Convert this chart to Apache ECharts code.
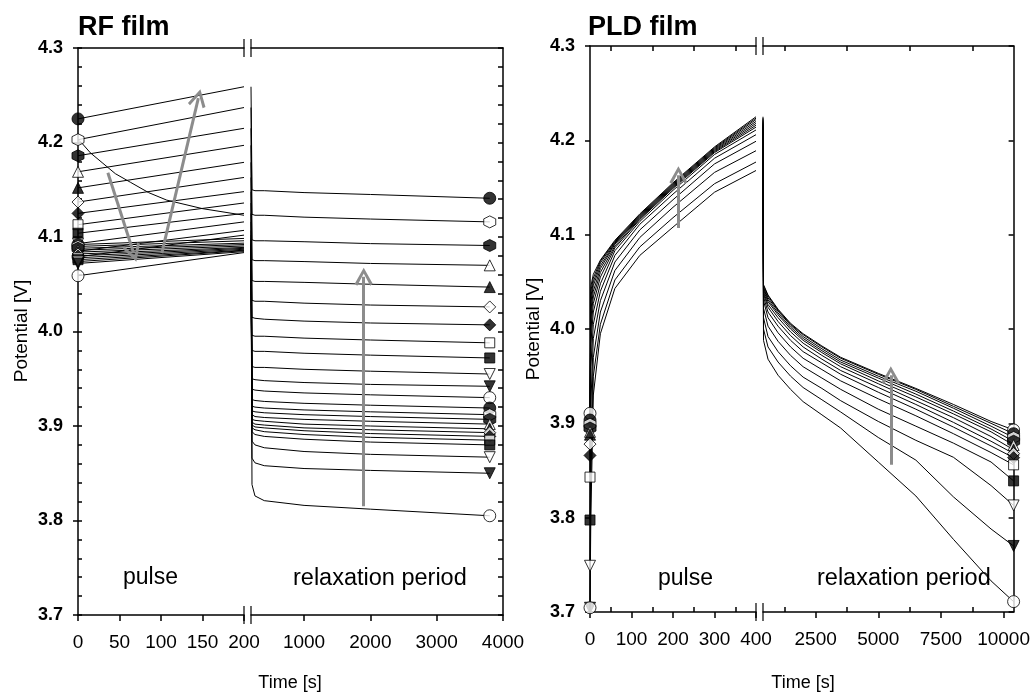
<!DOCTYPE html>
<html>
<head>
<meta charset="utf-8">
<script src="https://cdn.jsdelivr.net/npm/echarts@6/dist/echarts.min.js"></script>
<style>
  html, body { margin: 0; padding: 0; background: #fff; }
  #chart { width: 1033px; height: 692px; }
</style>
</head>
<body>
<div id="chart"></div>
<script>
// ---- RF film data (curve 1 = lowest, 24 = highest) ----
var rfPulseStart = [4.059, 4.072, 4.074, 4.076, 4.078, 4.080, 4.082, 4.084, 4.086, 4.088, 4.090, 4.092,
                    4.079, 4.085, 4.093, 4.104, 4.113, 4.125, 4.137, 4.152, 4.169, 4.186, 4.203, 4.225];
var rfPulseEnd = [4.0835, 4.0845, 4.0855, 4.086, 4.087, 4.088, 4.089, 4.0905, 4.092, 4.0935, 4.096, 4.0985,
                  4.102, 4.107, 4.116, 4.125, 4.136, 4.148, 4.163, 4.179, 4.197, 4.215, 4.237, 4.259];
var rfRelaxTime = [215, 260, 400, 1000, 2000, 3800];
var rfRelax = [
  [3.838, 3.826, 3.821, 3.816, 3.812, 3.805],
  [3.866, 3.861, 3.858, 3.855, 3.853, 3.850],
  [3.884, 3.880, 3.877, 3.873, 3.870, 3.867],
  [3.894, 3.891, 3.889, 3.886, 3.883, 3.880],
  [3.898, 3.896, 3.894, 3.891, 3.888, 3.885],
  [3.901, 3.899, 3.898, 3.895, 3.892, 3.889],
  [3.904, 3.902, 3.901, 3.898, 3.896, 3.893],
  [3.907, 3.906, 3.905, 3.902, 3.900, 3.897],
  [3.912, 3.910, 3.909, 3.907, 3.905, 3.902],
  [3.916, 3.915, 3.914, 3.912, 3.910, 3.907],
  [3.921, 3.920, 3.919, 3.917, 3.915, 3.912],
  [3.928, 3.927, 3.926, 3.924, 3.922, 3.919],
  [3.939, 3.938, 3.937, 3.935, 3.933, 3.930],
  [3.950, 3.949, 3.948, 3.946, 3.944, 3.942],
  [3.963, 3.962, 3.962, 3.960, 3.958, 3.955],
  [3.980, 3.979, 3.979, 3.977, 3.975, 3.972],
  [3.996, 3.995, 3.995, 3.993, 3.991, 3.988],
  [4.015, 4.014, 4.013, 4.011, 4.009, 4.007],
  [4.033, 4.032, 4.032, 4.030, 4.028, 4.026],
  [4.054, 4.053, 4.053, 4.052, 4.050, 4.047],
  [4.076, 4.075, 4.075, 4.074, 4.072, 4.070],
  [4.097, 4.096, 4.096, 4.095, 4.093, 4.091],
  [4.124, 4.123, 4.123, 4.121, 4.119, 4.116],
  [4.150, 4.149, 4.149, 4.147, 4.145, 4.141]
];
// the one pulse curve that decays
var rfDecayTime = [0, 5, 15, 30, 45, 63, 85, 107, 150, 200];
var rfDecayV = [4.203, 4.199, 4.189, 4.178, 4.167, 4.158, 4.147, 4.139, 4.130, 4.123];

// ---- PLD film data (curve 1 = lowest, 13 = highest) ----
var pldPulseTime = [0, 2, 8, 25, 60, 120, 200, 300, 400];
var pldPulse = [
  [3.7045, 3.800, 3.930, 3.995, 4.043, 4.078, 4.108, 4.145, 4.168],
  [3.7045, 3.840, 3.950, 4.005, 4.052, 4.087, 4.118, 4.154, 4.177],
  [3.749, 3.880, 3.970, 4.018, 4.062, 4.097, 4.129, 4.166, 4.189],
  [3.7975, 3.920, 3.990, 4.030, 4.071, 4.105, 4.137, 4.175, 4.199],
  [3.843, 3.960, 4.005, 4.040, 4.078, 4.111, 4.143, 4.181, 4.206],
  [3.866, 3.985, 4.018, 4.048, 4.083, 4.114, 4.147, 4.185, 4.211],
  [3.878, 4.000, 4.027, 4.055, 4.086, 4.116, 4.149, 4.187, 4.214],
  [3.888, 4.012, 4.034, 4.060, 4.088, 4.117, 4.150, 4.188, 4.216],
  [3.891, 4.020, 4.040, 4.064, 4.090, 4.118, 4.151, 4.189, 4.218],
  [3.895, 4.028, 4.046, 4.067, 4.091, 4.119, 4.152, 4.190, 4.220],
  [3.899, 4.034, 4.050, 4.070, 4.092, 4.120, 4.153, 4.191, 4.222],
  [3.9035, 4.040, 4.054, 4.072, 4.093, 4.121, 4.154, 4.192, 4.2235],
  [3.9106, 4.045, 4.058, 4.073, 4.094, 4.122, 4.155, 4.193, 4.225]
];
var pldRelaxTime = [420, 600, 1000, 1500, 2000, 2750, 3500, 5000, 6500, 8000, 9500, 10400];
var pldRelax = [
  [3.988, 3.968, 3.951, 3.936, 3.923, 3.909, 3.895, 3.859, 3.823, 3.777, 3.733, 3.711],
  [4.000, 3.981, 3.965, 3.950, 3.938, 3.925, 3.912, 3.885, 3.861, 3.822, 3.788, 3.770],
  [4.012, 3.992, 3.976, 3.961, 3.949, 3.937, 3.924, 3.902, 3.882, 3.864, 3.834, 3.813],
  [4.022, 4.003, 3.987, 3.972, 3.960, 3.948, 3.936, 3.915, 3.897, 3.879, 3.859, 3.839],
  [4.030, 4.012, 3.996, 3.981, 3.969, 3.957, 3.945, 3.926, 3.908, 3.889, 3.869, 3.856],
  [4.034, 4.018, 4.003, 3.988, 3.976, 3.964, 3.952, 3.933, 3.915, 3.896, 3.876, 3.8636],
  [4.037, 4.023, 4.008, 3.993, 3.981, 3.968, 3.956, 3.938, 3.920, 3.901, 3.881, 3.868],
  [4.039, 4.026, 4.012, 3.997, 3.985, 3.972, 3.960, 3.942, 3.924, 3.906, 3.886, 3.872],
  [4.041, 4.029, 4.015, 4.000, 3.988, 3.975, 3.963, 3.945, 3.928, 3.910, 3.891, 3.877],
  [4.043, 4.031, 4.017, 4.002, 3.990, 3.977, 3.965, 3.948, 3.931, 3.913, 3.894, 3.881],
  [4.044, 4.033, 4.019, 4.004, 3.992, 3.979, 3.967, 3.950, 3.934, 3.916, 3.897, 3.885],
  [4.046, 4.035, 4.020, 4.005, 3.994, 3.981, 3.969, 3.952, 3.936, 3.918, 3.900, 3.889],
  [4.047, 4.036, 4.021, 4.006, 3.995, 3.982, 3.970, 3.953, 3.937, 3.920, 3.902, 3.893]
];

// gray arrows [t0, v0, t1, v1]
var rfPulseArrows = [[36, 4.168, 67, 4.083], [101, 4.083, 145, 4.247]];
var rfRelaxArrows = [[1900, 3.815, 1900, 4.058]];
var pldPulseArrows = [[213, 4.107, 213, 4.163]];
var pldRelaxArrows = [[5500, 3.856, 5500, 3.951]];

var yTicks = [3.7, 3.8, 3.9, 4.0, 4.1, 4.2, 4.3];

var FONT = '"Liberation Sans", Arial, Helvetica, sans-serif';
var HEX = 'path://M5,0 L9.33,2.5 L9.33,7.5 L5,10 L0.67,7.5 L0.67,2.5 Z';
var CHEVRON = 'path://M5,0 L10,9.5 L8.6,10.6 L5,3.4 L1.4,10.6 L0,9.5 Z';

// symbol cycle, index = curve number mod 12
var SYMBOLS = [
  { symbol: 'circle', filled: true, size: 12 },
  { symbol: 'circle', filled: false, size: 12 },
  { symbol: 'triangle', filled: true, size: 11, rotate: 180 },
  { symbol: 'triangle', filled: false, size: 11, rotate: 180 },
  { symbol: 'rect', filled: true, size: 10 },
  { symbol: 'rect', filled: false, size: 10 },
  { symbol: 'diamond', filled: true, size: 12 },
  { symbol: 'diamond', filled: false, size: 12 },
  { symbol: 'triangle', filled: true, size: 11 },
  { symbol: 'triangle', filled: false, size: 11 },
  { symbol: HEX, filled: true, size: 12 },
  { symbol: HEX, filled: false, size: 12 }
];

function markerItem(t, v, n) {
  var s = SYMBOLS[n % 12];
  return {
    value: [t, v],
    symbol: s.symbol,
    symbolSize: s.size,
    symbolRotate: s.rotate || 0,
    itemStyle: { color: s.filled ? '#000' : '#fff', borderColor: '#000', borderWidth: 1 }
  };
}

function curve(xi, yi, data) {
  return {
    type: 'line', xAxisIndex: xi, yAxisIndex: yi, data: data,
    symbol: 'none', lineStyle: { color: '#000', width: 1 },
    silent: true, z: 2
  };
}

function markers(xi, yi, data) {
  return { type: 'scatter', xAxisIndex: xi, yAxisIndex: yi, data: data, clip: false, silent: true, z: 5 };
}

function arrows(xi, yi, list) {
  return {
    type: 'lines', coordinateSystem: 'cartesian2d', xAxisIndex: xi, yAxisIndex: yi,
    data: list.map(function (a) { return { coords: [[a[0], a[1]], [a[2], a[3]]] }; }),
    symbol: ['none', CHEVRON], symbolSize: [16, 18],
    lineStyle: { color: '#8c8c8c', width: 3, opacity: 1, curveness: 0 },
    silent: true, z: 4
  };
}

function pairs(times, values) {
  return times.map(function (t, k) { return [t, values[k]]; });
}

var series = [];
var i;
// RF film
for (i = 0; i < rfPulseStart.length; i++) {
  series.push(curve(0, 0, [[0, rfPulseStart[i]], [200, rfPulseEnd[i]]]));
  series.push(curve(2, 2, [[200, rfPulseEnd[i]]].concat(pairs(rfRelaxTime, rfRelax[i]))));
}
series.push(curve(0, 0, pairs(rfDecayTime, rfDecayV)));
var rfStartMarks = [], rfEndMarks = [];
for (i = rfPulseStart.length - 1; i >= 0; i--) {
  rfStartMarks.push(markerItem(0, rfPulseStart[i], i + 1));
  rfEndMarks.push(markerItem(rfRelaxTime[rfRelaxTime.length - 1], rfRelax[i][rfRelax[i].length - 1], i + 1));
}
series.push(markers(0, 0, rfStartMarks));
series.push(markers(2, 2, rfEndMarks));
series.push(arrows(0, 0, rfPulseArrows));
series.push(arrows(2, 2, rfRelaxArrows));

// PLD film
var pulseEndT = pldPulseTime[pldPulseTime.length - 1];
for (i = 0; i < pldPulse.length; i++) {
  series.push(curve(4, 3, pairs(pldPulseTime, pldPulse[i])));
  series.push(curve(7, 4, [[pulseEndT, pldPulse[i][pldPulse[i].length - 1]]].concat(pairs(pldRelaxTime, pldRelax[i]))));
}
var pldStartMarks = [], pldEndMarks = [];
for (i = pldPulse.length - 1; i >= 0; i--) {
  pldStartMarks.push(markerItem(0, pldPulse[i][0], i + 1));
  pldEndMarks.push(markerItem(pldRelaxTime[pldRelaxTime.length - 1], pldRelax[i][pldRelax[i].length - 1], i + 1));
}
series.push(markers(4, 3, pldStartMarks));
series.push(markers(7, 4, pldEndMarks));
series.push(arrows(4, 3, pldPulseArrows));
series.push(arrows(7, 4, pldRelaxArrows));

var tickLine = { color: '#000', width: 1.5 };
var axisLine = { show: true, lineStyle: { color: '#000', width: 1.5 } };
var xLabel = {
  color: '#000', fontFamily: FONT, fontSize: 19, margin: 18, showMinLabel: true, showMaxLabel: true,
  formatter: function (v) { return String(v); }
};
var yLabel = {
  color: '#000', fontFamily: FONT, fontSize: 18, fontWeight: 'bold', margin: 15,
  customValues: yTicks, formatter: function (v) { return v.toFixed(1); }
};
var noLabel = { show: false };
var noSplit = { show: false };

function xAx(grid, min, max, extra) {
  var base = {
    type: 'value', gridIndex: grid, min: min, max: max, position: 'bottom',
    axisLine: axisLine, splitLine: noSplit, axisLabel: noLabel, axisTick: { show: false }
  };
  return Object.assign(base, extra || {});
}
function yAx(grid, extra) {
  var base = {
    type: 'value', gridIndex: grid, min: 3.7, max: 4.3, interval: 0.1, position: 'left',
    axisLine: axisLine, splitLine: noSplit, axisLabel: noLabel, axisTick: { show: false }
  };
  return Object.assign(base, extra || {});
}

var option = {
  animation: false,
  backgroundColor: '#fff',
  grid: [
    { left: 78, top: 48, width: 166, height: 567 },
    { left: 251, top: 48, width: 252, height: 567 },
    { left: 590, top: 46, width: 166, height: 566 },
    { left: 763, top: 46, width: 252, height: 566 }
  ],
  xAxis: [
    // 0: RF pulse bottom
    xAx(0, 0, 200, { interval: 50, axisLabel: xLabel, axisTick: { show: true, length: 6, lineStyle: tickLine } }),
    // 1: RF pulse top
    xAx(0, 0, 200, { position: 'top' }),
    // 2: RF relax bottom
    xAx(1, 200, 4000, {
      axisLabel: Object.assign({}, xLabel, { customValues: [1000, 2000, 3000, 4000] }),
      axisTick: { show: true, length: 6, customValues: [1000, 2000, 3000, 4000], lineStyle: tickLine }
    }),
    // 3: RF relax top
    xAx(1, 200, 4000, { position: 'top' }),
    // 4: PLD pulse bottom
    xAx(2, 0, 400, { interval: 100, axisLabel: xLabel, axisTick: { show: true, length: 6, lineStyle: tickLine } }),
    // 5: PLD pulse bottom minor
    xAx(2, 0, 400, { axisLine: { show: false }, axisTick: { show: true, inside: true, length: 5, customValues: [50, 150, 250, 350], lineStyle: tickLine } }),
    // 6: PLD pulse top
    xAx(2, 0, 400, { position: 'top', axisTick: { show: true, inside: true, length: 5, customValues: [50, 150, 250, 350], lineStyle: tickLine } }),
    // 7: PLD relax bottom
    xAx(3, 400, 10400, {
      axisLabel: Object.assign({}, xLabel, { customValues: [2500, 5000, 7500, 10000] }),
      axisTick: { show: true, length: 6, customValues: [2500, 5000, 7500, 10000], lineStyle: tickLine }
    }),
    // 8: PLD relax bottom minor
    xAx(3, 400, 10400, { axisLine: { show: false }, axisTick: { show: true, inside: true, length: 5, customValues: [1250, 3750, 6250, 8750], lineStyle: tickLine } }),
    // 9: PLD relax top
    xAx(3, 400, 10400, { position: 'top', axisTick: { show: true, inside: true, length: 5, customValues: [1250, 3750, 6250, 8750], lineStyle: tickLine } })
  ],
  yAxis: [
    // 0: RF left, labels + outward ticks
    yAx(0, { axisLabel: yLabel, axisTick: { show: true, length: 5, customValues: yTicks, lineStyle: tickLine } }),
    // 1: RF left minor ticks inward
    yAx(0, { interval: 0.02, axisLine: { show: false }, axisTick: { show: true, inside: true, length: 4, lineStyle: tickLine } }),
    // 2: RF relax right
    yAx(1, { position: 'right', interval: 0.02, axisTick: { show: true, inside: true, length: 5, lineStyle: tickLine } }),
    // 3: PLD left
    yAx(2, { axisLabel: yLabel, axisTick: { show: true, length: 5, customValues: yTicks, lineStyle: tickLine } }),
    // 4: PLD relax right
    yAx(3, { position: 'right', axisTick: { show: true, inside: true, length: 5, customValues: yTicks, lineStyle: tickLine } })
  ],
  series: series
};

var chart = echarts.init(document.getElementById('chart'), null, { renderer: 'canvas' });
chart.setOption(option);

// texts and axis-break marks
function txt(text, x, y, size, weight, align, rot) {
  return {
    type: 'text', x: x, y: y, rotation: rot || 0, silent: true, z: 10,
    style: {
      text: text, fill: '#000', font: (weight || 'normal') + ' ' + size + 'px ' + FONT,
      textAlign: align || 'left', textVerticalAlign: 'middle'
    }
  };
}
var elements = [
  txt('RF film', 78, 28, 27, 'bold'),
  txt('PLD film', 588, 28, 27, 'bold'),
  txt('pulse', 123, 578, 23),
  txt('relaxation period', 293, 579, 23.5),
  txt('pulse', 658, 579, 23),
  txt('relaxation period', 817, 579, 23.5),
  txt('Time [s]', 290, 683, 18, 'normal', 'center'),
  txt('Time [s]', 803, 683, 18, 'normal', 'center'),
  txt('Potential [V]', 22, 331, 19, 'normal', 'center', Math.PI / 2),
  txt('Potential [V]', 534, 329, 19, 'normal', 'center', Math.PI / 2)
];
var breaks = [[0, 0, 200], [2, 2, 200], [4, 3, 400], [7, 4, 400]];
breaks.forEach(function (b) {
  [4.3, 3.7].forEach(function (v) {
    var p = chart.convertToPixel({ xAxisIndex: b[0], yAxisIndex: b[1] }, [b[2], v]);
    elements.push({
      type: 'line', silent: true, z: 10,
      shape: { x1: p[0], y1: p[1] - 9, x2: p[0], y2: p[1] + 9 },
      style: { stroke: '#000', lineWidth: 1.2 }
    });
  });
});
chart.setOption({ graphic: { elements: elements } });
</script>
</body>
</html>
